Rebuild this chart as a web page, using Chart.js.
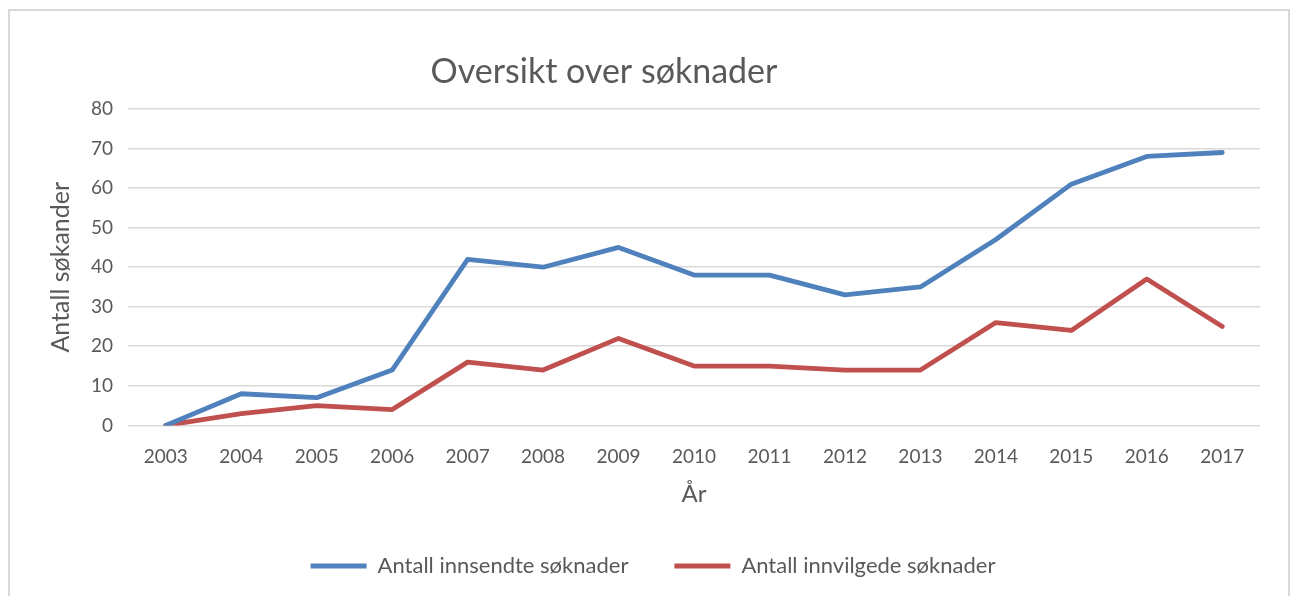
<!DOCTYPE html>
<html>
<head>
<meta charset="utf-8">
<script src="https://cdn.jsdelivr.net/npm/chart.js@4"></script>
<style>
  html, body { margin: 0; padding: 0; background: #fff; overflow: hidden; }
  #wrap { position: relative; width: 1292px; height: 596px; }
  #frame { position: absolute; left: 8px; top: 9px; width: 1278px; height: 600px; border: 2px solid #d9d9d9; border-bottom: none; pointer-events: none; }
</style>
</head>
<body>
<div id="wrap">
  <canvas id="soknadChart" width="1292" height="596"></canvas>
  <div id="frame"></div>
</div>
<script>
// data
const years = ['2003', '2004', '2005', '2006', '2007', '2008', '2009', '2010',
               '2011', '2012', '2013', '2014', '2015', '2016', '2017'];
const innsendte = [0, 8, 7, 14, 42, 40, 45, 38, 38, 33, 35, 47, 61, 68, 69];
const innvilgede = [0, 3, 5, 4, 16, 14, 22, 15, 15, 14, 14, 26, 24, 37, 25];
const yTicks = [0, 10, 20, 30, 40, 50, 60, 70, 80];

const textColor = '#595959';
const fontFam = "Lato, 'Open Sans', sans-serif";

document.addEventListener("DOMContentLoaded", function () {

    const canvas = document.getElementById("soknadChart");
    const ctx = canvas.getContext("2d");

    // title is not centred on the chart in the original, so draw it by hand
    const titlePlugin = {
        id: 'offTitle',
        afterDraw(chart) {
            const c = chart.ctx;
            c.save();
            c.font = "34px " + fontFam;
            c.fillStyle = textColor;
            c.textAlign = 'center';
            c.textBaseline = 'middle';
            c.fillText('Oversikt over søknader', 604, 72);
            c.restore();
        }
    };

    new Chart(ctx, {
        type: 'line',
        data: {
            labels: years,
            datasets: [{
                label: 'Antall innsendte søknader',
                data: innsendte,
                borderColor: '#4f81bd',
                backgroundColor: '#4f81bd',
                borderWidth: 4.8,
                pointRadius: 0,
                borderCapStyle: 'round',
                borderJoinStyle: 'round',
                tension: 0
            }, {
                label: 'Antall innvilgede søknader',
                data: innvilgede,
                borderColor: '#c0504d',
                backgroundColor: '#c0504d',
                borderWidth: 4.8,
                pointRadius: 0,
                borderCapStyle: 'round',
                borderJoinStyle: 'round',
                tension: 0
            }]
        },
        options: {
            responsive: false,
            animation: false,
            layout: {
                padding: { top: 109, left: 46, right: 32, bottom: 9 }
            },
            plugins: {
                title: { display: false },
                tooltip: { enabled: false },
                legend: {
                    position: 'bottom',
                    labels: {
                        color: textColor,
                        font: { family: fontFam, size: 22 },
                        boxWidth: 56,
                        boxHeight: 5,
                        padding: 46,
                        generateLabels(chart) {
                            return Chart.defaults.plugins.legend.labels.generateLabels(chart).map(function (l) {
                                l.lineWidth = 0;
                                return l;
                            });
                        }
                    }
                }
            },
            scales: {
                x: {
                    offset: true,
                    grid: { display: false },
                    border: { display: false },
                    ticks: {
                        color: textColor,
                        font: { family: fontFam, size: 19 },
                        padding: 12,
                        maxRotation: 0
                    },
                    title: {
                        display: true,
                        text: 'År',
                        color: textColor,
                        font: { family: fontFam, size: 24 },
                        padding: { top: 0, bottom: 0 }
                    }
                },
                y: {
                    min: 0,
                    max: 80,
                    afterBuildTicks(scale) {
                        scale.ticks = yTicks.map(v => ({ value: v }));
                    },
                    grid: { color: '#d9d9d9', lineWidth: 1.6, drawTicks: false },
                    border: { display: false },
                    ticks: {
                        color: textColor,
                        font: { family: fontFam, size: 19 },
                        padding: 15
                    },
                    title: {
                        display: true,
                        text: 'Antall søkander',
                        color: textColor,
                        font: { family: fontFam, size: 25 },
                        padding: { top: 0, bottom: 0 }
                    }
                }
            }
        },
        plugins: [titlePlugin]
    });
});
</script>
</body>
</html>
